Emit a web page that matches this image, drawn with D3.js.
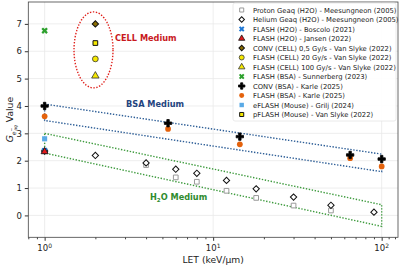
<!DOCTYPE html>
<html><head><meta charset="utf-8">
<script src="https://cdn.jsdelivr.net/npm/d3@7"></script>
<style>body{margin:0;background:#fff}svg{display:block;font-family:"DejaVu Sans",sans-serif}</style>
</head><body><svg id="c" width="400" height="267"></svg>
<script>
// ---- data ----
const protonLET = [1, 4, 6, 8, 12, 18, 30, 50];
const protonG   = [2.35, 1.84, 1.39, 1.23, 0.9, 0.64, 0.36, 0.18];
const heliumLET = [1, 2, 4, 6, 8, 12, 18, 30, 50, 90];
const heliumG   = [2.35, 2.19, 1.92, 1.69, 1.54, 1.28, 0.97, 0.67, 0.37, 0.12];
const boscolo = [[1, 2.36]];
const jansen = [[1, 2.33]];
const convCell = [[2, 7.0]];
const flashCell20 = [[2, 5.72]];
const flashCell100 = [[2, 5.1]];
const sunnerberg = [[1, 6.75]];
const convBSALET = [1, 5.4, 14.4, 65, 100];
const convBSAG   = [4.0, 3.37, 2.88, 2.21, 2.06];
const flashBSALET = [1, 5.4, 14.4, 65, 100];
const flashBSAG   = [3.62, 3.16, 2.6, 2.09, 1.79];
const grilj = [[1, 2.8]];
const pflash = [[2, 6.3]];
const bsaBand = [[1, 4.07], [100, 2.24], [100, 1.6], [1, 3.47]];
const h2oBand = [[1, 3.0], [100, 0.39], [100, -0.4], [1, 2.28]];
const cellCenter = [1.95, 6.05];
const yTicks = [0, 1, 2, 3, 4, 5, 6, 7];
const xTicks = [1, 10, 100];
const xTickExp = ["0", "1", "2"];
const legendLabels = [
  "Proton Geaq (H2O) - Meesungneon (2005)",
  "Helium Geaq (H2O) - Meesungneon (2005)",
  "FLASH (H2O) - Boscolo (2021)",
  "FLASH (H2O) - Jansen (2022)",
  "CONV (CELL) 0,5 Gy/s - Van Slyke (2022)",
  "FLASH (CELL) 20 Gy/s - Van Slyke (2022)",
  "FLASH (CELL) 100 Gy/s - Van Slyke (2022)",
  "FLASH (BSA) - Sunnerberg (2023)",
  "CONV (BSA) - Karle (2025)",
  "FLASH (BSA) - Karle (2025)",
  "eFLASH (Mouse) - Grilj (2024)",
  "pFLASH (Mouse) - Van Slyke (2022)"
];

// ---- setup ----
const svg = d3.select("#c");
const L = 28.3, R = 398, T = 2, B = 237.3;
const x = d3.scaleLog().domain([0.8, 125]).range([L, R]);
const y = d3.scaleLinear().domain([-0.8, 7.8]).range([B, T]);

// grid
const g = svg.append("g");
g.selectAll(".gx").data(xTicks).join("line")
  .attr("x1", d => x(d)).attr("x2", d => x(d)).attr("y1", T).attr("y2", B)
  .attr("stroke", "#e8e8e8").attr("stroke-width", 0.8);
g.selectAll(".gy").data(yTicks).join("line")
  .attr("x1", L).attr("x2", R).attr("y1", d => y(d)).attr("y2", d => y(d))
  .attr("stroke", "#e8e8e8").attr("stroke-width", 0.8);

// axes
const ax = svg.append("g").attr("transform", `translate(0,${B})`)
  .call(d3.axisBottom(x).tickValues(xTicks).tickSize(3.5).tickFormat(""));
const minor = [0.8, 0.9];
for (let d of [1, 10]) for (let k = 2; k <= 9; k++) minor.push(k * d);
minor.push(110, 120);
svg.append("g").attr("transform", `translate(0,${B})`)
  .call(d3.axisBottom(x).tickValues(minor).tickSize(2).tickFormat(""))
  .call(s => s.select(".domain").remove())
  .call(s => s.selectAll("line").attr("stroke", "#444"));
ax.selectAll("line").attr("stroke", "#333");
const xl = svg.append("g");
xTicks.forEach((v, i) => {
  const t = xl.append("text").attr("x", x(v)).attr("y", 251).attr("text-anchor", "middle")
    .attr("font-size", 8.5).attr("fill", "#222");
  t.append("tspan").text("10");
  t.append("tspan").attr("dy", -3.5).attr("font-size", 6).text(xTickExp[i]);
});
const ay = svg.append("g").attr("transform", `translate(${L},0)`)
  .call(d3.axisLeft(y).tickValues(yTicks).tickSize(3.5).tickFormat(d3.format("d")));
ay.selectAll("text").attr("font-size", 8.5).attr("fill", "#222").attr("font-family", "DejaVu Sans");
ay.selectAll("line").attr("stroke", "#333");
ay.select(".domain").remove(); ax.select(".domain").remove();
svg.append("rect").attr("x", L).attr("y", T).attr("width", R - L).attr("height", B - T)
  .attr("fill", "none").attr("stroke", "#444").attr("stroke-width", 0.8);

// axis labels
svg.append("text").attr("x", (L + R) / 2).attr("y", 263).attr("text-anchor", "middle")
  .attr("font-size", 9.2).attr("fill", "#222").text("LET (keV/\u03bcm)");
const yl = svg.append("text").attr("transform", `translate(13,${(T + B) / 2}) rotate(-90)`)
  .attr("text-anchor", "middle").attr("font-size", 9.2).attr("fill", "#222");
yl.append("tspan").attr("font-style", "italic").text("G");
yl.append("tspan").attr("dy", 2.5).attr("font-size", 6).attr("font-style", "italic").text("e");
yl.append("tspan").attr("dy", -3).attr("font-size", 4.5).text("\u2212");
yl.append("tspan").attr("dx", -3).attr("dy", 4.5).attr("font-size", 4.5).attr("font-style", "italic").text("aq");
yl.append("tspan").attr("dy", -4).text(" Value");

// bands
const line = d3.line().x(d => x(d[0])).y(d => y(d[1]));
svg.append("path").attr("d", line(bsaBand) + "Z").attr("fill", "none")
  .attr("stroke", "#2c5d96").attr("stroke-width", 1.4).attr("stroke-dasharray", "1.4,1.6");
svg.append("path").attr("d", line(h2oBand) + "Z").attr("fill", "none")
  .attr("stroke", "#3d9a3d").attr("stroke-width", 1.4).attr("stroke-dasharray", "1.4,1.6");
svg.append("ellipse").attr("cx", x(cellCenter[0])).attr("cy", y(cellCenter[1]))
  .attr("rx", 19.5).attr("ry", 38).attr("fill", "none")
  .attr("stroke", "#e0201b").attr("stroke-width", 1.4).attr("stroke-dasharray", "1.4,1.6");

// band labels
svg.append("text").attr("x", 115).attr("y", 40.5).attr("font-size", 8.2).attr("font-weight", "bold")
  .attr("fill", "#c8191e").text("CELL Medium");
svg.append("text").attr("x", 126).attr("y", 106.5).attr("font-size", 8.2).attr("font-weight", "bold")
  .attr("fill", "#1f447e").text("BSA Medium");
const ht = svg.append("text").attr("x", 150).attr("y", 199.5).attr("font-size", 8.2).attr("font-weight", "bold")
  .attr("fill", "#2e8b2e");
ht.append("tspan").text("H");
ht.append("tspan").attr("dy", 2).attr("font-size", 5.5).text("2");
ht.append("tspan").attr("dy", -2).text("O Medium");

// marker styles
const styles = [
  {sym: d3.symbolSquare, size: 22, fill: "#fff", stroke: "#999", sw: 1},
  {sym: d3.symbolSquare, size: 20, fill: "#fff", stroke: "#111", sw: 1, rot: 45},
  {sym: d3.symbolCross, size: 26, fill: "#1f77d4", stroke: "none", sw: 0, rot: 45},
  {sym: d3.symbolTriangle, size: 22, fill: "#e31a1c", stroke: "#111", sw: 0.8},
  {sym: d3.symbolSquare, size: 20, fill: "#8a6d00", stroke: "#111", sw: 1, rot: 45},
  {sym: d3.symbolCircle, size: 26, fill: "#f5e800", stroke: "#333", sw: 0.8},
  {sym: d3.symbolTriangle, size: 24, fill: "#f5e800", stroke: "#333", sw: 0.8},
  {sym: d3.symbolCross, size: 26, fill: "#2ca02c", stroke: "none", sw: 0, rot: 45},
  {sym: d3.symbolCross, size: 30, fill: "#000", stroke: "#000", sw: 0.8},
  {sym: d3.symbolCircle, size: 26, fill: "#e4620c", stroke: "none", sw: 0},
  {sym: d3.symbolSquare, size: 26, fill: "#5aaae6", stroke: "none", sw: 0},
  {sym: d3.symbolSquare, size: 22, fill: "#f5e800", stroke: "#111", sw: 1}
];
const zip = (a, b) => a.map((v, i) => [v, b[i]]);
const seriesData = [
  zip(protonLET, protonG), zip(heliumLET, heliumG), boscolo, jansen, convCell,
  flashCell20, flashCell100, sunnerberg, zip(convBSALET, convBSAG),
  zip(flashBSALET, flashBSAG), grilj, pflash
];
const drawOrder = [0, 1, 10, 2, 3, 4, 5, 6, 7, 9, 8, 11];
drawOrder.forEach(i => {
  const s = styles[i];
  svg.append("g").selectAll("path").data(seriesData[i]).join("path")
    .attr("d", d3.symbol(s.sym, s.size)())
    .attr("transform", d => `translate(${x(d[0])},${y(d[1])}) rotate(${s.rot || 0})`)
    .attr("fill", s.fill).attr("stroke", s.stroke).attr("stroke-width", s.sw);
});

// legend
const lg = svg.append("g");
lg.append("rect").attr("x", 233).attr("y", 3).attr("width", 163).attr("height", 118)
  .attr("rx", 2).attr("fill", "#fff").attr("fill-opacity", 0.9).attr("stroke", "#e4e4e4").attr("stroke-width", 0.8);
legendLabels.forEach((lab, i) => {
  const s = styles[i];
  const yy = 10 + i * 9.5;
  lg.append("path").attr("d", d3.symbol(s.sym, s.size * 0.75)())
    .attr("transform", `translate(241.7,${yy}) rotate(${s.rot || 0})`)
    .attr("fill", s.fill).attr("stroke", s.stroke).attr("stroke-width", s.sw);
  lg.append("text").attr("x", 253).attr("y", yy + 2.5).attr("font-size", 6.8).attr("fill", "#222").text(lab);
});
</script></body></html>
